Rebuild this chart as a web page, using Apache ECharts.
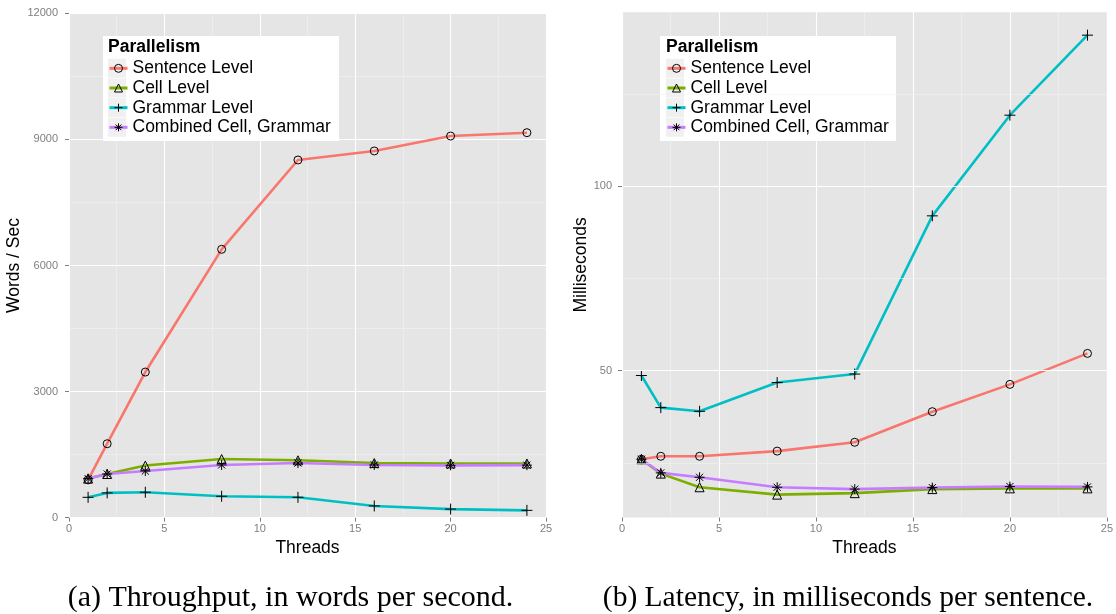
<!DOCTYPE html>
<html>
<head>
<meta charset="utf-8">
<script src="https://cdn.jsdelivr.net/npm/echarts@6/dist/echarts.min.js"></script>
<style>
  html, body { margin: 0; padding: 0; background: #fff; }
  #chart { width: 1116px; height: 614px; }
</style>
</head>
<body>
<div id="chart"></div>
<script>
// Thread counts on the x axis
const threads = [1, 2, 4, 8, 12, 16, 20, 24];
const seriesNames = ['Sentence Level', 'Cell Level', 'Grammar Level', 'Combined Cell, Grammar'];
const seriesColors = ['#F8766D', '#7CAE00', '#00BFC4', '#C77CFF'];

// (a) throughput, words per second
const wpsSentence = [900, 1760, 3465, 6385, 8510, 8725, 9080, 9160];
const wpsCell     = [930, 1040, 1240, 1395, 1365, 1300, 1290, 1290];
const wpsGrammar  = [485, 590, 605, 510, 485, 280, 205, 175];
const wpsCombined = [930, 1040, 1110, 1255, 1300, 1255, 1245, 1250];

// (b) latency, milliseconds per sentence
const msSentence = [26.0, 26.8, 26.8, 28.2, 30.6, 38.9, 46.3, 54.7];
const msCell     = [26.0, 22.1, 18.4, 16.4, 16.8, 17.9, 18.1, 18.1];
const msGrammar  = [48.7, 40.0, 39.0, 46.8, 49.1, 92.0, 119.3, 141.0];
const msCombined = [26.0, 22.3, 21.1, 18.4, 17.9, 18.3, 18.6, 18.5];

// tick values
const msTicks = [50, 100];
const msMinorTicks = [25, 75, 125];

const symbols = [
  'circle',
  'triangle',
  'path://M5,0L5,10M0,5L10,5',
  'path://M5,0L5,10M0,5L10,5M1.46,1.46L8.54,8.54M1.46,8.54L8.54,1.46'
];
const symbolSizes = [8, 9, 11, 10];

const SANS = '"Liberation Sans", Arial, sans-serif';
const GREY = '#7F7F7F';

function makeLine(i, values, axisIndex) {
  return {
    name: seriesNames[i],
    type: 'line',
    xAxisIndex: axisIndex,
    yAxisIndex: axisIndex,
    data: threads.map((t, k) => [t, values[k]]),
    symbol: symbols[i],
    symbolSize: symbolSizes[i],
    showSymbol: true,
    lineStyle: { color: seriesColors[i], width: 2.6 },
    itemStyle: { color: 'transparent', borderColor: '#000', borderWidth: 1 },
    emphasis: { disabled: true },
    silent: true,
    z: 2
  };
}

function xAxisFor(gridIndex) {
  return {
    type: 'value', gridIndex, min: 0, max: 25, interval: 5,
    axisLine: { show: false },
    axisTick: { show: true, length: 4, lineStyle: { color: GREY } },
    axisLabel: { color: GREY, fontSize: 11, fontFamily: SANS, margin: 6 },
    splitLine: { show: true, lineStyle: { color: '#FFFFFF', width: 1.1 } },
    minorTick: { show: false, splitNumber: 2 },
    minorSplitLine: { show: true, lineStyle: { color: '#F2F2F2', width: 0.6 } },
    name: 'Threads', nameLocation: 'middle', nameGap: 17,
    nameTextStyle: { fontSize: 17.5, color: '#000', fontFamily: SANS }
  };
}

const legendData = seriesNames.map((n, i) => ({
  name: n,
  itemStyle: { color: 'transparent', borderColor: '#000', borderWidth: 1 },
  lineStyle: { color: seriesColors[i], width: 3 }
}));

function legendAt(left, padLeft) {
  return {
    data: legendData, orient: 'vertical', left, top: 36,
    padding: [22.5, 6, 4, padLeft],
    itemWidth: 18, itemHeight: 10, itemGap: 0,
    selectedMode: false,
    textStyle: { fontSize: 17.5, color: '#000', fontFamily: SANS, lineHeight: 19.67 }
  };
}

// legend backdrop and grey key boxes
function legendBackdrop(boxLeft, keyLeft) {
  const els = [{
    type: 'rect', z: 3, silent: true,
    shape: { x: boxLeft, y: 36, width: 236, height: 105 },
    style: { fill: '#FFFFFF' }
  }];
  for (let k = 0; k < seriesNames.length; k++) {
    els.push({
      type: 'rect', z: 3, silent: true,
      shape: { x: keyLeft, y: 58.8 + k * 19.67, width: 18, height: 19 },
      style: { fill: '#F0F0F0' }
    });
  }
  return els;
}

const chart = echarts.init(document.getElementById('chart'), null, { renderer: 'canvas' });

chart.setOption({
  animation: false,
  backgroundColor: '#FFFFFF',
  title: [
    { text: 'Parallelism', left: 103, top: 33, padding: 5,
      textStyle: { fontSize: 17.5, fontWeight: 'bold', color: '#000', fontFamily: SANS } },
    { text: 'Parallelism', left: 661, top: 33, padding: 5,
      textStyle: { fontSize: 17.5, fontWeight: 'bold', color: '#000', fontFamily: SANS } }
  ],
  legend: [legendAt(103, 5), legendAt(660, 6)],
  grid: [
    { left: 69, top: 13.3, width: 477, height: 504.4, show: true,
      backgroundColor: '#E5E5E5', borderWidth: 0, containLabel: false },
    { left: 622, top: 12.3, width: 490, height: 505.2, show: true,
      backgroundColor: '#E5E5E5', borderWidth: 0, containLabel: false }
  ],
  xAxis: [xAxisFor(0), xAxisFor(1)],
  yAxis: [
    {
      type: 'value', gridIndex: 0, min: 0, max: 12000, interval: 3000,
      axisLine: { show: false },
      axisTick: { show: true, length: 4, lineStyle: { color: GREY } },
      axisLabel: { color: GREY, fontSize: 11, fontFamily: SANS, margin: 11,
        formatter: v => String(v) },
      splitLine: { show: true, lineStyle: { color: '#FFFFFF', width: 1.1 } },
      minorTick: { show: false, splitNumber: 2 },
      minorSplitLine: { show: true, lineStyle: { color: '#F2F2F2', width: 0.6 } },
      name: 'Words / Sec', nameLocation: 'middle', nameGap: 36,
      nameTextStyle: { fontSize: 17.5, color: '#000', fontFamily: SANS }
    },
    {
      type: 'value', gridIndex: 1, min: 10.2, max: 147.2,
      axisLine: { show: false },
      axisTick: { show: true, length: 4, lineStyle: { color: GREY }, customValues: msTicks },
      axisLabel: { color: GREY, fontSize: 11, fontFamily: SANS, margin: 10, customValues: msTicks },
      splitLine: { show: false },
      name: 'Milliseconds', nameLocation: 'middle', nameGap: 22,
      nameTextStyle: { fontSize: 17.5, color: '#000', fontFamily: SANS }
    }
  ],
  series: [
    // horizontal grid lines of the latency panel
    {
      name: 'grid-b', type: 'line', xAxisIndex: 1, yAxisIndex: 1, data: [], z: 1, silent: true,
      markLine: {
        silent: true, symbol: ['none', 'none'], label: { show: false }, animation: false,
        emphasis: { disabled: true },
        data: msMinorTicks.map(v => ({ yAxis: v, lineStyle: { color: '#F2F2F2', width: 0.6, type: 'solid' } }))
          .concat(msTicks.map(v => ({ yAxis: v, lineStyle: { color: '#FFFFFF', width: 1.1, type: 'solid' } })))
      }
    },
    makeLine(0, wpsSentence, 0),
    makeLine(1, wpsCell, 0),
    makeLine(2, wpsGrammar, 0),
    makeLine(3, wpsCombined, 0),
    makeLine(0, msSentence, 1),
    makeLine(1, msCell, 1),
    makeLine(2, msGrammar, 1),
    makeLine(3, msCombined, 1)
  ],
  graphic: [
    ...legendBackdrop(103, 108),
    ...legendBackdrop(660, 666),
    { type: 'text', x: 290.5, y: 598, silent: true,
      style: { text: '(a) Throughput, in words per second.', fontSize: 30,
        fontFamily: '"Liberation Serif", "DejaVu Serif", serif', fill: '#000',
        align: 'center', verticalAlign: 'middle' } },
    { type: 'text', x: 848, y: 598, silent: true,
      style: { text: '(b) Latency, in milliseconds per sentence.', fontSize: 29.5,
        fontFamily: '"Liberation Serif", "DejaVu Serif", serif', fill: '#000',
        align: 'center', verticalAlign: 'middle' } }
  ]
});
</script>
</body>
</html>
